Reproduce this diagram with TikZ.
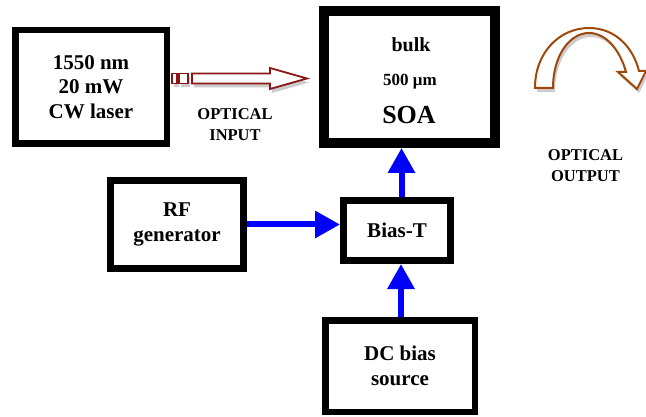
\documentclass[tikz,border=0pt]{standalone}
\usepackage{fontspec}
\setmainfont{Liberation Serif}
\usetikzlibrary{arrows.meta,shadows,calc}
\definecolor{optred}{RGB}{140,22,22}
\definecolor{optbrown}{RGB}{160,72,10}
\begin{document}
\begin{tikzpicture}[x=1pt,y=-1pt,
  box/.style={draw=black, line width=#1, fill=white, inner sep=0pt, align=center,
    font=\fontsize{21}{24.5}\selectfont\bfseries},
  box/.default=6.5pt,
  lbl/.style={inner sep=0pt, align=center, font=\bfseries},
  small/.style={inner sep=0pt, align=center, font=\fontsize{16.5}{21}\selectfont\bfseries},
  bluearrow/.style={draw=blue, line width=6pt, -{Triangle[length=25pt,width=26pt]}},
  blueshadow/.style={draw=black, opacity=0.15, line width=6pt, -{Triangle[length=25pt,width=26pt]}},
  myshadow/.style={drop shadow={shadow xshift=2pt, shadow yshift=-4pt, opacity=0.2, fill=black}},
  redarrow/.style={draw=optred, line width=1.8pt, fill=white, line join=miter},
  brownarrow/.style={draw=optbrown, line width=2pt, fill=white, line join=miter}
]
\useasboundingbox (0,0) rectangle (646,417);

% boxes
\node[box, minimum width=151.5pt, minimum height=113.5pt] (laser) at (91,87) {1550 nm\\20 mW\\CW laser};
\node[box=10pt, minimum width=171pt, minimum height=132pt] (soa) at (409.5,77) {};
\node[lbl, font=\fontsize{20}{20}\selectfont\bfseries] (soa1) at (411,45) {bulk};
\node[lbl, font=\fontsize{17}{17}\selectfont\bfseries] (soa2) at (410,82) {500 μm};
\node[lbl, font=\fontsize{26}{26}\selectfont\bfseries] (soa3) at (409,115) {SOA};
\node[box=7pt, minimum width=133pt, minimum height=88pt] (rf) at (177,224.5) {RF\\generator};
\node[box=7pt, minimum width=107pt, minimum height=60pt] (bias) at (397,230.5) {Bias-T};
\node[box, minimum width=149.5pt, minimum height=91.5pt] (dc) at (400,366) {DC bias\\source};

% labels
\node[small] (oin) at (235,124.5) {OPTICAL\\INPUT};
\node[small] (oout) at (585.5,166) {OPTICAL\\OUTPUT};

% blue arrows (shadows first)
\begin{scope}[shift={(2,4)}]
\draw[blueshadow] (rf.east) -- (rf.east -| bias.west);
\draw[blueshadow] ([xshift=4.5pt]bias.north) -- ([xshift=4.5pt]bias.north |- soa.south);
\draw[blueshadow] ([xshift=4pt]bias.south |- dc.north) -- ([xshift=4pt]bias.south);
\end{scope}
\draw[bluearrow] (rf.east) -- (rf.east -| bias.west);
\draw[bluearrow] ([xshift=4.5pt]bias.north) -- ([xshift=4.5pt]bias.north |- soa.south);
\draw[bluearrow] ([xshift=4pt]bias.south |- dc.north) -- ([xshift=4pt]bias.south);

% optical input arrow
\coordinate (ia) at ([yshift=8.5pt]laser.east);
\draw[redarrow, myshadow] ($(ia)+(2,-5)$) rectangle ($(ia)+(7,5)$);
\draw[redarrow, myshadow] ($(ia)+(9,-5)$) rectangle ($(ia)+(18,5)$);
\draw[redarrow, myshadow] ($(ia)+(22,-5)$) -- ($(ia)+(100,-5)$) -- ($(ia)+(100,-10.5)$)
  -- ($(ia)+(137,0)$) -- ($(ia)+(100,10.5)$) -- ($(ia)+(100,5)$) -- ($(ia)+(22,5)$) -- cycle;

% optical output curved arrow
\draw[brownarrow, myshadow] (535,88) .. controls (535,52) and (560,28) .. (589,28)
  .. controls (615,28) and (633,47) .. (639,71) -- (646,71) -- (637,89) -- (618,72) -- (626,72)
  .. controls (620,50) and (606,33) .. (589,33)
  .. controls (570,33) and (553,55) .. (553,88) -- cycle;
\end{tikzpicture}
\end{document}
